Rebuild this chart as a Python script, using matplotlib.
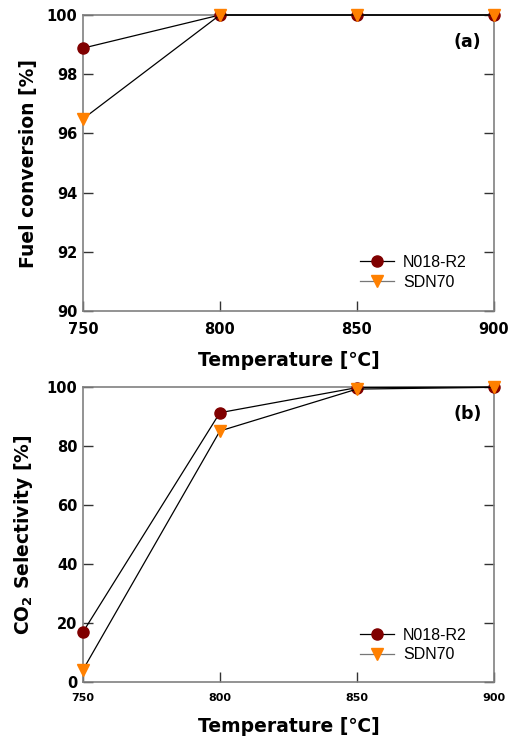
import matplotlib
matplotlib.use("Agg")
import matplotlib.pyplot as plt

plt.rcParams['font.family'] = ['DejaVu Sans']

temps = [750, 800, 850, 900]
fuel_n018 = [98.88, 100.0, 100.0, 100.0]
fuel_sdn70 = [96.49, 100.0, 100.0, 100.0]
sel_n018 = [16.9, 91.3, 99.8, 100.0]
sel_sdn70 = [4.1, 85.1, 99.3, 99.9]

labels = ['N018-R2', 'SDN70']
circle_color = '#800000'
tri_color = '#FF8000'

fig = plt.figure(figsize=(5.15, 7.43), dpi=100)
ax1 = fig.add_axes([0.161, 0.5814, 0.798, 0.3984])
ax2 = fig.add_axes([0.161, 0.0821, 0.798, 0.397])

def style(ax, xtick_size):
    for s in ax.spines.values():
        s.set_color('#808080')
        s.set_linewidth(1.2)
    ax.tick_params(direction='in', length=7, width=1, color='#333333',
                   right=True, top=False)
    ax.tick_params(axis='y', labelsize=10.5, pad=4)
    ax.tick_params(axis='x', labelsize=xtick_size, pad=8)
    for lab in ax.get_xticklabels() + ax.get_yticklabels():
        lab.set_fontweight('bold')

def draw(ax, y1, y2, anchor_y):
    ax.plot(temps, y1, color='black', lw=0.9, marker='o', ms=8,
            mfc=circle_color, mec=circle_color, label=labels[0], clip_on=False, zorder=3)
    ax.plot(temps, y2, color='black', lw=0.9, marker='v', ms=8,
            mfc=tri_color, mec=tri_color, label=labels[1], clip_on=False, zorder=3)
    leg = ax.legend(loc='lower right', bbox_to_anchor=(0.95, anchor_y), frameon=False,
                    prop={'family': ['Liberation Sans', 'DejaVu Sans'], 'size': 11.5},
                    handlelength=2.1, handletextpad=0.6,
                    labelspacing=0.3, borderaxespad=0)
    leg.get_lines()[1].set_color('#777777')

draw(ax1, fuel_n018, fuel_sdn70, 0.05)
ax1.set_xlim(750, 900)
ax1.set_ylim(90, 100)
ax1.set_xticks(temps)
ax1.set_yticks([90, 92, 94, 96, 98, 100])
style(ax1, 10.5)
ax1.set_xlabel('Temperature [℃]', fontsize=13.5, fontweight='bold', labelpad=10)
ax1.set_ylabel('Fuel conversion [%]', fontsize=13.5, fontweight='bold', labelpad=6)
ax1.text(0.97, 0.91, '(a)', transform=ax1.transAxes, ha='right', va='center',
         fontsize=12.5, fontweight='bold')

draw(ax2, sel_n018, sel_sdn70, 0.045)
ax2.set_xlim(750, 900)
ax2.set_ylim(0, 100)
ax2.set_xticks(temps)
ax2.set_yticks([0, 20, 40, 60, 80, 100])
style(ax2, 8)
ax2.set_xlabel('Temperature [℃]', fontsize=13.5, fontweight='bold', labelpad=10)
ax2.set_ylabel('CO$_\\mathbf{2}$ Selectivity [%]', fontsize=13.5, fontweight='bold', labelpad=8)
ax2.text(0.97, 0.91, '(b)', transform=ax2.transAxes, ha='right', va='center',
         fontsize=12.5, fontweight='bold')

fig.savefig('out.png', dpi=100)
